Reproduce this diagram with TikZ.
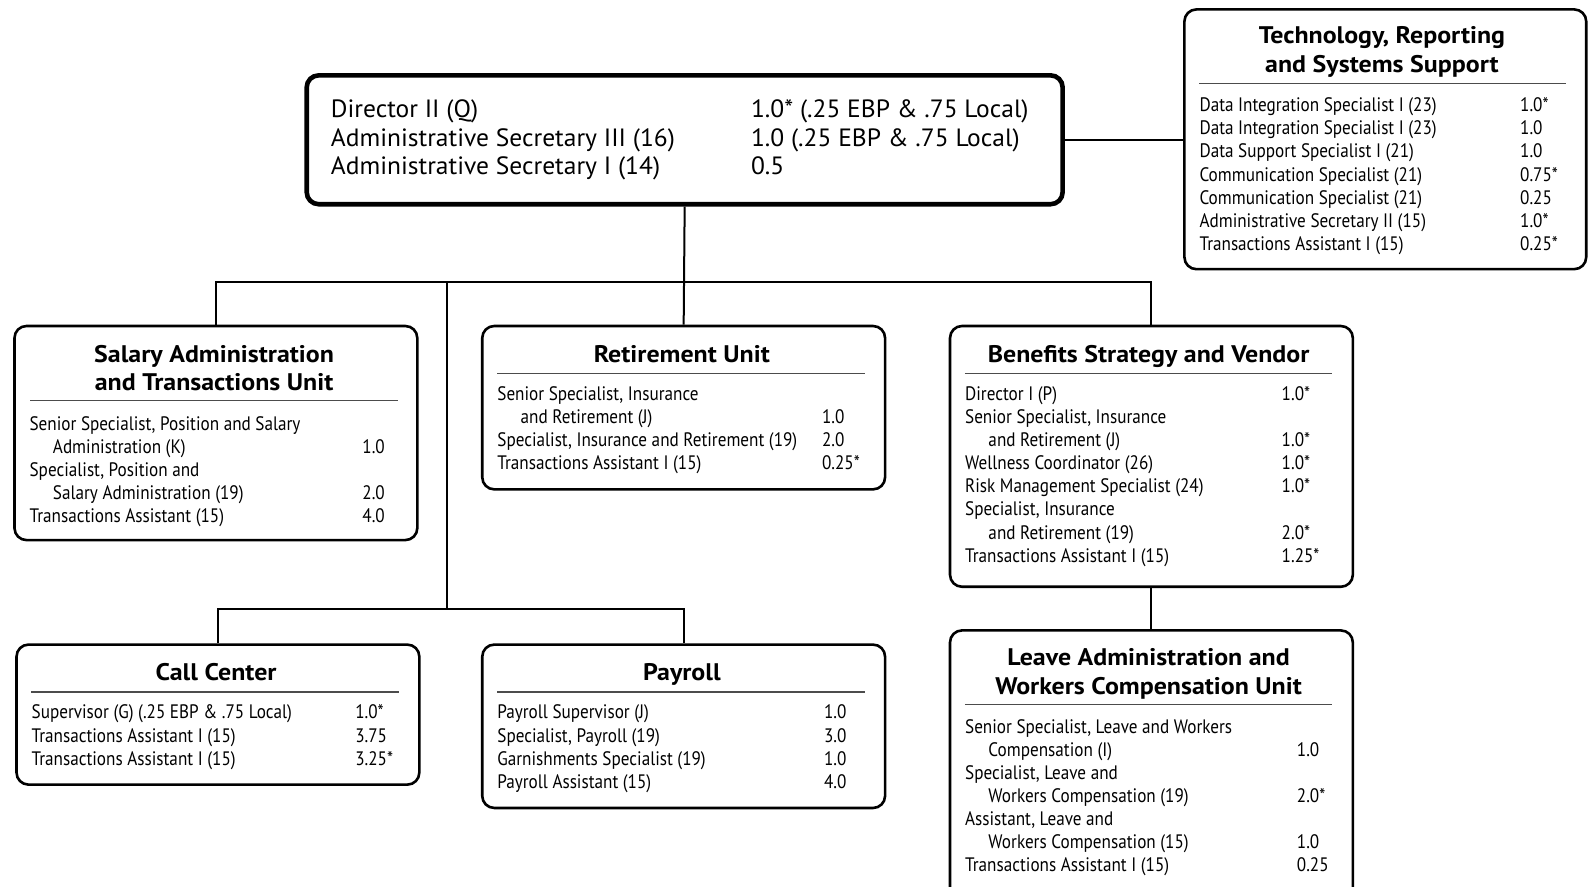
\documentclass[tikz,border=0pt]{standalone}
\usepackage{fontspec}
\setmainfont{PT Sans}
\newfontfamily\bodyf[FakeStretch=0.88]{PT Sans}
\newfontfamily\dirf[FakeStretch=1.02]{PT Sans}
\newfontfamily\titf[FakeStretch=1.08]{PT Sans}
\begin{document}
\begin{tikzpicture}[x=1.0147pt,y=-1.0147pt,
  ubox/.style={draw, line width=2.6pt, rounded corners=12pt, anchor=north west, inner sep=0pt},
  dbox/.style={ubox, line width=4.6pt},
  conn/.style={line width=2pt},
  rulel/.style={line width=1.3pt, draw=black!70},
  row/.style={anchor=base west, inner sep=0pt, font=\bodyf\fontsize{19.5}{22}\selectfont},
  drow/.style={anchor=base west, inner sep=0pt, font=\dirf\fontsize{25}{28}\selectfont},
  tit/.style={anchor=base, inner sep=0pt, font=\titf\bfseries\fontsize{24}{28}\selectfont}]
\path[use as bounding box, clip] (0,0) rectangle (1568,874.1);
\fill[white] (0,0) rectangle (1568,874.1);
% boxes
\node[dbox, minimum width=1.0147*745pt, minimum height=1.0147*127pt] (dir) at (300,72) {};
\node[ubox, minimum width=1.0147*396pt, minimum height=1.0147*256pt] (tech) at (1166,8) {};
\node[ubox, minimum width=1.0147*397pt, minimum height=1.0147*211pt] (sal) at (13,320) {};
\node[ubox, minimum width=1.0147*397pt, minimum height=1.0147*161pt] (ret) at (474,320) {};
\node[ubox, minimum width=1.0147*397pt, minimum height=1.0147*257pt] (ben) at (935,320) {};
\node[ubox, minimum width=1.0147*397pt, minimum height=1.0147*290pt] (leave) at (935,620) {};
\node[ubox, minimum width=1.0147*397pt, minimum height=1.0147*138pt] (call) at (15,634) {};
\node[ubox, minimum width=1.0147*397pt, minimum height=1.0147*161pt] (pay) at (474,634) {};
% connectors
\coordinate (busy) at (0,278);
\coordinate (spT) at (441,278);
\coordinate (spB) at (441,600);
\draw[conn] (dir.east) -- (dir.east -| tech.west);
\draw[conn] (dir.south) -- (ret.north);
\draw[conn] (sal.north) -- (sal.north |- busy) -- (ben.north |- busy) -- (ben.north);
\draw[conn] (spT) -- (spB);
\draw[conn] (call.north) -- (call.north |- spB) -- (pay.north |- spB) -- (pay.north);
\draw[conn] (ben.south) -- (leave.north);
% director
\node[drow] (d1) at (326,116) {Director II (Q)};
\node[drow] (d1n) at (740,116) {1.0* (.25 EBP \& .75 Local)};
\node[drow] (d2) at (326,144) {Administrative Secretary III (16)};
\node[drow] (d2n) at (740,144) {1.0 (.25 EBP \& .75 Local)};
\node[drow] (d3) at (326,172) {Administrative Secretary I (14)};
\node[drow] (d3n) at (740,172) {0.5};
% tech
\node[tit] (tt1) at (1362,43) {Technology, Reporting};
\node[tit] (tt2) at (1362,71) {and Systems Support};
\draw[rulel] (1182,82) -- (1543,82);
\node[row] (t1) at (1182,110) {Data Integration Specialist I (23)};
\node[row] (t1n) at (1498,110) {1.0*};
\node[row] (t2) at (1182,132.8) {Data Integration Specialist I (23)};
\node[row] (t2n) at (1498,132.8) {1.0};
\node[row] (t3) at (1182,155.6) {Data Support Specialist I (21)};
\node[row] (t3n) at (1498,155.6) {1.0};
\node[row] (t4) at (1182,178.4) {Communication Specialist (21)};
\node[row] (t4n) at (1498,178.4) {0.75*};
\node[row] (t5) at (1182,201.2) {Communication Specialist (21)};
\node[row] (t5n) at (1498,201.2) {0.25};
\node[row] (t6) at (1182,224) {Administrative Secretary II (15)};
\node[row] (t6n) at (1498,224) {1.0*};
\node[row] (t7) at (1182,246.8) {Transactions Assistant I (15)};
\node[row] (t7n) at (1498,246.8) {0.25*};
% salary
\node[tit] (st1) at (211,357) {Salary Administration};
\node[tit] (st2) at (211,384.5) {and Transactions Unit};
\draw[rulel] (30,395) -- (392,395);
\node[row] (s1) at (29,424) {Senior Specialist, Position and Salary};
\node[row] (s2) at (52,446.8) {Administration (K)};
\node[row] (s2n) at (357,446.8) {1.0};
\node[row] (s3) at (29,469.6) {Specialist, Position and};
\node[row] (s4) at (52,492.4) {Salary Administration (19)};
\node[row] (s4n) at (357,492.4) {2.0};
\node[row] (s5) at (29,515.2) {Transactions Assistant (15)};
\node[row] (s5n) at (357,515.2) {4.0};
% retirement
\node[tit] (rt1) at (672,357) {Retirement Unit};
\draw[rulel] (490,368) -- (852,368);
\node[row] (r1) at (490,394.5) {Senior Specialist, Insurance};
\node[row] (r2) at (513,417.3) {and Retirement (J)};
\node[row] (r2n) at (810,417.3) {1.0};
\node[row] (r3) at (490,440.1) {Specialist, Insurance and Retirement (19)};
\node[row] (r3n) at (810,440.1) {2.0};
\node[row] (r4) at (490,462.9) {Transactions Assistant I (15)};
\node[row] (r4n) at (810,462.9) {0.25*};
% benefits
\node[tit] (bt1) at (1132,357) {Benefits Strategy and Vendor};
\draw[rulel] (951,368) -- (1313,368);
\node[row] (b1) at (951,394.5) {Director I (P)};
\node[row] (b1n) at (1263,394.5) {1.0*};
\node[row] (b2) at (951,417.3) {Senior Specialist, Insurance};
\node[row] (b3) at (974,440.1) {and Retirement (J)};
\node[row] (b3n) at (1263,440.1) {1.0*};
\node[row] (b4) at (951,462.9) {Wellness Coordinator (26)};
\node[row] (b4n) at (1263,462.9) {1.0*};
\node[row] (b5) at (951,485.7) {Risk Management Specialist (24)};
\node[row] (b5n) at (1263,485.7) {1.0*};
\node[row] (b6) at (951,508.5) {Specialist, Insurance};
\node[row] (b7) at (974,531.3) {and Retirement (19)};
\node[row] (b7n) at (1263,531.3) {2.0*};
\node[row] (b8) at (951,554.1) {Transactions Assistant I (15)};
\node[row] (b8n) at (1263,554.1) {1.25*};
% leave
\node[tit] (lt1) at (1132,656) {Leave Administration and};
\node[tit] (lt2) at (1132,684) {Workers Compensation Unit};
\draw[rulel] (951,694) -- (1313,694);
\node[row] (l1) at (951,722.5) {Senior Specialist, Leave and Workers};
\node[row] (l2) at (974,745.3) {Compensation (I)};
\node[row] (l2n) at (1278,745.3) {1.0};
\node[row] (l3) at (951,768.1) {Specialist, Leave and};
\node[row] (l4) at (974,790.9) {Workers Compensation (19)};
\node[row] (l4n) at (1278,790.9) {2.0*};
\node[row] (l5) at (951,813.7) {Assistant, Leave and};
\node[row] (l6) at (974,836.5) {Workers Compensation (15)};
\node[row] (l6n) at (1278,836.5) {1.0};
\node[row] (l7) at (951,859.3) {Transactions Assistant I (15)};
\node[row] (l7n) at (1278,859.3) {0.25};
% call center
\node[tit] (ct1) at (213,671) {Call Center};
\draw[rulel] (31,682) -- (393,682);
\node[row] (c1) at (31,708.5) {Supervisor (G) (.25 EBP \& .75 Local)};
\node[row] (c1n) at (350,708.5) {1.0*};
\node[row] (c2) at (31,731.3) {Transactions Assistant I (15)};
\node[row] (c2n) at (350,731.3) {3.75};
\node[row] (c3) at (31,754.1) {Transactions Assistant I (15)};
\node[row] (c3n) at (350,754.1) {3.25*};
% payroll
\node[tit] (pt1) at (672,671) {Payroll};
\draw[rulel] (490,682) -- (852,682);
\node[row] (p1) at (490,708.5) {Payroll Supervisor (J)};
\node[row] (p1n) at (812,708.5) {1.0};
\node[row] (p2) at (490,731.3) {Specialist, Payroll (19)};
\node[row] (p2n) at (812,731.3) {3.0};
\node[row] (p3) at (490,754.1) {Garnishments Specialist (19)};
\node[row] (p3n) at (812,754.1) {1.0};
\node[row] (p4) at (490,776.9) {Payroll Assistant (15)};
\node[row] (p4n) at (812,776.9) {4.0};
\end{tikzpicture}
\end{document}
